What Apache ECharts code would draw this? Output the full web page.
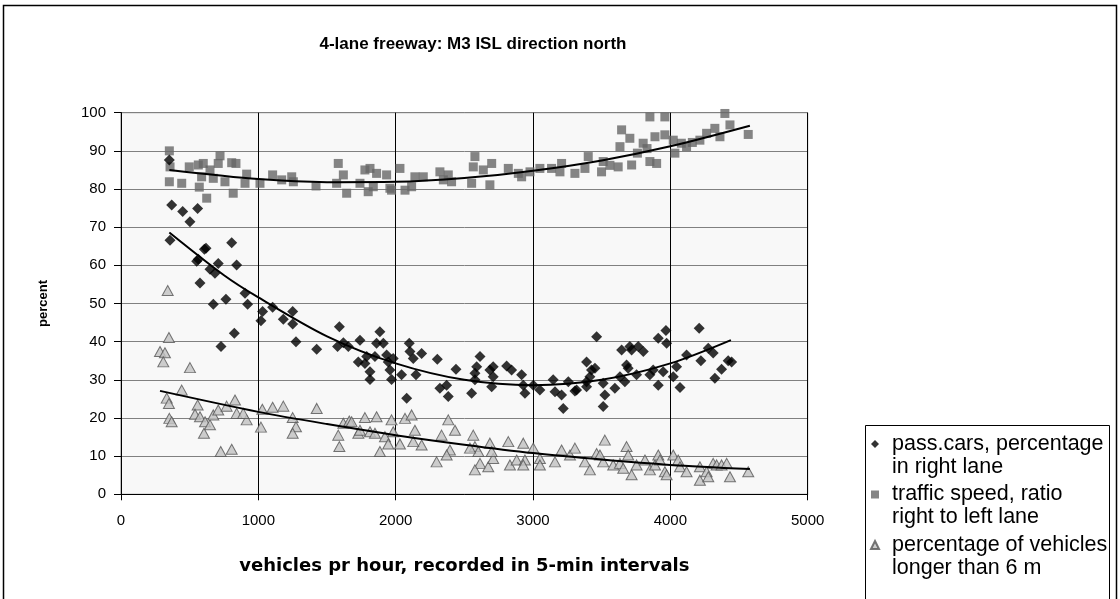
<!DOCTYPE html>
<html><head><meta charset="utf-8">
<script src="https://cdn.jsdelivr.net/npm/echarts@6/dist/echarts.min.js"></script>
<style>html,body{margin:0;padding:0;background:#fff}#c{width:1120px;height:599px}</style>
</head><body><div id="c"></div>
<script>
const chartTitle = '4-lane freeway: M3 ISL direction north';
const xAxisTitle = 'vehicles pr hour, recorded in 5-min intervals';
const yAxisTitle = 'percent';
const seriesNames = ['pass.cars, percentage\nin right lane', 'traffic speed, ratio\nright to left lane', 'percentage of vehicles\nlonger than 6 m'];
const xTicks = [0, 1000, 2000, 3000, 4000, 5000];
const yTicks = [0, 10, 20, 30, 40, 50, 60, 70, 80, 90, 100];

const carsPoints = [[352,87.6],[369,75.8],[449,74.1],[502,71.4],[558,74.9],[357,66.6],[607,64.2],[619,64.5],[563,61.6],[806,65.9],[842,60.1],[551,61.1],[708,60.5],[648,59.0],[684,57.9],[575,55.4],[903,52.7],[764,51.1],[672,49.8],[922,49.8],[1031,47.9],[1019,45.5],[1104,49.0],[1182,45.9],[1250,47.9],[1250,44.6],[1274,40.0],[728,38.7],[825,42.2],[1425,38.0],[1590,43.9],[1577,38.7],[1619,39.7],[1655,38.7],[1728,34.7],[1740,40.4],[1885,42.6],[1861,39.6],[1910,39.6],[1789,36.1],[1776,34.3],[1813,32.1],[1813,30.1],[1849,36.1],[1934,36.5],[1946,34.7],[1982,35.6],[1958,32.6],[1970,30.1],[2043,31.3],[2080,25.2],[2099,39.6],[2104,37.4],[2128,35.6],[2148,31.3],[2189,36.9],[2303,35.4],[2322,27.8],[2371,28.6],[2383,25.6],[2439,32.8],[2553,26.5],[2577,31.7],[2590,33.4],[2614,36.1],[2577,30.0],[2686,32.6],[2710,33.4],[2699,28.2],[2710,30.8],[2808,33.6],[2844,32.6],[2917,31.3],[2929,28.6],[2941,26.5],[3002,28.6],[3050,27.3],[3147,30.0],[3160,26.9],[3208,26.0],[3220,22.5],[3257,29.5],[3317,27.3],[3390,34.7],[3426,32.6],[3451,33.0],[3414,30.8],[3390,28.2],[3463,41.3],[3511,29.1],[3523,26.0],[3511,23.0],[3305,27.1],[3390,29.5],[3596,27.8],[3645,37.8],[3705,38.7],[3718,37.8],[3766,38.7],[3803,37.4],[3633,30.8],[3669,29.5],[3681,33.9],[3693,33.0],[3754,31.3],[3851,31.3],[3875,32.6],[3912,28.6],[3948,32.1],[3912,40.9],[3968,42.9],[3973,39.6],[4021,30.8],[4045,33.4],[4070,28.0],[4118,36.5],[4210,43.5],[4222,35.0],[4276,38.3],[4312,37.0],[4324,30.4],[4373,32.8],[4421,35.0],[4446,34.7]];

const speedPoints = [[352,90.0],[357,85.8],[352,81.9],[442,81.5],[497,85.8],[563,86.3],[599,86.7],[570,80.5],[624,77.6],[587,83.2],[648,85.0],[672,82.8],[721,88.7],[708,86.7],[757,81.9],[806,86.9],[837,86.7],[817,78.9],[903,81.5],[915,83.9],[1012,81.5],[1104,83.7],[1170,82.4],[1243,83.2],[1255,81.9],[1420,80.8],[1582,86.7],[1619,83.7],[1570,81.5],[1643,78.9],[1776,85.0],[1813,85.4],[1861,84.1],[1934,83.7],[1800,79.3],[1740,81.5],[1837,80.6],[1958,80.2],[1970,79.7],[2031,85.4],[2068,79.7],[2116,80.6],[2140,83.2],[2201,83.2],[2322,84.5],[2383,83.7],[2347,82.4],[2407,81.9],[2577,88.5],[2565,85.8],[2553,81.5],[2638,85.0],[2699,86.7],[2686,81.1],[2820,85.4],[2893,84.1],[2917,83.2],[2978,84.5],[3050,85.4],[3135,85.4],[3208,86.7],[3196,84.5],[3305,84.1],[3402,88.5],[3378,85.4],[3499,84.5],[3511,87.2],[3560,86.2],[3645,95.5],[3633,91.1],[3620,85.8],[3705,93.3],[3718,86.3],[3760,89.4],[3802,92.0],[3830,90.6],[3851,87.2],[3888,93.7],[3900,86.7],[3851,98.9],[3960,98.9],[3960,94.2],[4021,92.8],[4033,89.4],[4080,92.0],[4118,91.1],[4160,92.2],[4215,92.8],[4264,94.6],[4324,95.9],[4361,93.7],[4397,99.8],[4434,96.8],[4567,94.3]];

const lengthPoints = [[340,53.4],[349,41.1],[284,37.4],[320,37.1],[308,34.7],[502,33.2],[442,27.3],[333,25.2],[349,23.8],[352,19.9],[369,19.0],[558,23.4],[539,21.0],[575,20.3],[612,19.0],[648,18.2],[604,16.0],[672,20.8],[708,22.1],[769,23.1],[830,24.7],[842,21.2],[915,19.5],[890,21.2],[726,11.2],[806,11.8],[1019,17.6],[1029,22.3],[1104,22.8],[1182,23.1],[1250,20.1],[1274,17.7],[1250,16.0],[1425,22.5],[1582,15.5],[1590,12.5],[1619,18.6],[1662,19.2],[1728,16.0],[1679,19.0],[1776,20.1],[1861,20.3],[1970,19.5],[2068,19.9],[2116,20.8],[1740,16.8],[1813,16.4],[1849,16.0],[1922,15.1],[1982,16.4],[2140,16.8],[1885,11.2],[1946,13.2],[2031,13.2],[2189,12.9],[2128,13.8],[2298,8.5],[2334,15.5],[2383,19.5],[2432,16.8],[2395,11.6],[2371,10.3],[2565,15.5],[2577,12.5],[2602,11.2],[2541,12.1],[2614,8.1],[2577,6.4],[2674,7.2],[2686,13.4],[2710,9.4],[2699,11.2],[2820,13.8],[2832,7.7],[2881,9.0],[2929,13.4],[2941,9.0],[2929,7.7],[3002,12.1],[3050,9.4],[3050,7.7],[3160,8.5],[3208,11.6],[3269,10.3],[3305,12.1],[3378,8.5],[3414,6.4],[3463,10.7],[3511,8.5],[3523,14.2],[3487,10.3],[3584,7.7],[3633,8.1],[3681,12.5],[3693,10.3],[3718,5.1],[3657,6.8],[3754,7.7],[3815,9.0],[3851,6.4],[3888,7.7],[3912,10.3],[3924,9.0],[3960,5.9],[3973,5.1],[4021,10.3],[4057,9.0],[4070,7.2],[4118,5.9],[4215,7.2],[4215,3.7],[4264,5.9],[4276,4.6],[4312,8.1],[4337,7.7],[4373,7.7],[4410,8.1],[4434,4.6],[4567,5.9]];

const carsTrend = [[352,68.6],[750,57.4],[1000,51.6],[1500,41.4],[2000,34.3],[2500,30.0],[3000,28.6],[3500,30.0],[4000,34.3],[4441,40.4]];
const speedTrend = [[352,85.0],[1000,82.6],[1500,81.8],[2000,81.9],[2500,82.9],[3000,84.8],[3500,87.5],[4000,91.2],[4579,96.6]];
const lengthTrend = [[284,27.1],[1000,21.6],[1500,18.4],[2000,15.5],[2500,13.0],[3000,10.8],[3500,9.1],[4000,7.7],[4579,6.6]];

const FONT = '"Liberation Sans", Arial, sans-serif';
const WIDE = '"DejaVu Sans", Verdana, sans-serif';
const chart = echarts.init(document.getElementById('c'));
const trendStyle = {color:'#000', width:2};
chart.setOption({
  animation:false,
  backgroundColor:'#ffffff',
  title:{text:chartTitle, left:473, top:35.5, padding:0, textAlign:'center',
    textStyle:{fontFamily:FONT, fontWeight:'bold', fontSize:17, color:'#000'}},
  grid:{left:121, right:312.3, top:112.7, bottom:104.7, show:true, backgroundColor:'#f8f8f8', borderColor:'#808080', borderWidth:1},
  xAxis:{type:'value', min:xTicks[0], max:xTicks[xTicks.length-1], interval:xTicks[1]-xTicks[0],
    name:xAxisTitle, nameLocation:'middle', nameGap:63.5,
    nameTextStyle:{fontFamily:WIDE, fontWeight:'bold', fontSize:18, color:'#000'},
    axisLine:{show:true, onZero:false, lineStyle:{color:'#000', width:1}},
    axisTick:{show:true, length:6, lineStyle:{color:'#000'}},
    axisLabel:{fontFamily:FONT, fontSize:15, color:'#000', margin:19, formatter:function(v){return String(v);}},
    splitLine:{show:true, lineStyle:{color:'#000', width:1}}},
  yAxis:{type:'value', min:yTicks[0], max:yTicks[yTicks.length-1], interval:yTicks[1]-yTicks[0],
    name:yAxisTitle, nameLocation:'middle', nameGap:71,
    nameTextStyle:{fontFamily:FONT, fontWeight:'bold', fontSize:13, color:'#000'},
    axisLine:{show:true, onZero:false, lineStyle:{color:'#000', width:1}},
    axisTick:{show:true, length:7, lineStyle:{color:'#000'}},
    axisLabel:{fontFamily:FONT, fontSize:15, color:'#000', margin:15},
    splitLine:{show:true, lineStyle:{color:'#808080', width:1}}},
  legend:{orient:'vertical', left:870, top:409.5, padding:0, itemGap:-18.5, itemWidth:8, itemHeight:8,
    data:[{name:seriesNames[0], icon:'diamond'},{name:seriesNames[1], icon:'rect'},{name:seriesNames[2], icon:'triangle'}],
    formatter:function(n){return '\n' + n;},
    textStyle:{fontFamily:FONT, fontSize:21.5, lineHeight:23, color:'#000', padding:[0,0,0,8]}},
  graphic:[
    {type:'rect', silent:true, z:-10, shape:{x:3.5, y:5.5, width:1113, height:640}, style:{fill:'none', stroke:'#000', lineWidth:1.5}},
    {type:'rect', silent:true, z:-10, shape:{x:865.5, y:425.5, width:244, height:220}, style:{fill:'#fff', stroke:'#000', lineWidth:1}}
  ],
  series:[
    {type:'scatter', name:seriesNames[1], data:speedPoints, symbol:'rect', symbolSize:9, itemStyle:{color:'#666666'}, z:2},
    {type:'scatter', name:seriesNames[0], data:carsPoints, symbol:'diamond', symbolSize:[11,11], itemStyle:{color:'#000000'}, z:3},
    {type:'scatter', name:seriesNames[2], data:lengthPoints, symbol:'triangle', symbolSize:[11,10], itemStyle:{color:'#c0c0c0', borderColor:'#555555', borderWidth:1}, z:2},
    {type:'line', data:carsTrend, smooth:0.3, showSymbol:false, lineStyle:trendStyle, z:5, silent:true},
    {type:'line', data:speedTrend, smooth:0.3, showSymbol:false, lineStyle:trendStyle, z:5, silent:true},
    {type:'line', data:lengthTrend, smooth:0.3, showSymbol:false, lineStyle:trendStyle, z:5, silent:true}
  ]
});
</script></body></html>
